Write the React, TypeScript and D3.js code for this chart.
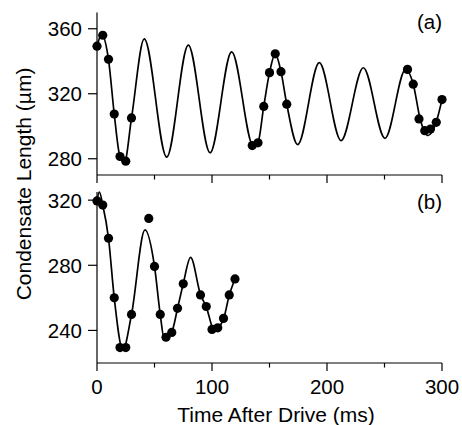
import React from 'react'
import * as d3 from 'd3'

// measured points, panel (a)
const timeA = [0, 5, 10, 15, 20, 25, 30, 135, 140, 145, 150, 155, 160, 165, 270, 275, 280, 285, 290, 295, 300]
const lengthA = [349.3, 356, 341.2, 307.5, 281.4, 278.5, 305.1, 288.1, 289.8, 312.2, 333, 344.6, 333.6, 313.6, 335, 325.9, 304.5, 297.3, 298.3, 302.4, 316.4]

// fit curve (a) at its turning points
const fitTimeA = [0, 4, 10, 15, 20, 24, 30, 41.1, 60.6, 79.4, 98.3, 117.1, 136, 140, 145, 150, 155, 160, 165, 174.5, 193.3, 212.2, 231.6, 250.4, 268.4, 275, 281, 287.8, 295, 300]
const fitLengthA = [349, 356.5, 341, 307.5, 281.4, 278.3, 305, 353.8, 281, 349.9, 283.7, 345.8, 287.8, 290, 312.2, 333, 344.6, 333.6, 313.6, 288.7, 339.1, 291.2, 336, 292.6, 335, 325.9, 304.5, 294.3, 302.6, 316.4]

// measured points, panel (b)
const timeB = [0, 5, 10, 15, 20, 25, 30, 45, 50, 55, 60, 65, 70, 75, 90, 95, 100, 105, 110, 115, 120]
const lengthB = [319.5, 317, 296.6, 260, 229.5, 229.5, 249.8, 308.8, 279.3, 249.8, 235.8, 238.8, 253.6, 268.6, 261.8, 254.7, 240.6, 241.6, 247.4, 261.8, 271.6]

// fit curve (b)
const fitTimeB = [0, 2, 5, 10, 15, 22.5, 30, 41.7, 50, 55, 58.5, 65, 70, 75, 81.4, 90, 95, 102, 110, 115, 120]
const fitLengthB = [319.5, 325, 317, 296.6, 260, 228, 249.8, 301.7, 279.3, 249.8, 235, 239, 253.4, 268.7, 284.8, 262, 254.5, 240, 247.1, 261.6, 271.6]

const xMajor = [0, 100, 200, 300]
const xMinor = [50, 150, 250]
const yTicksA = [280, 320, 360]
const yTicksB = [240, 280, 320]

const FONT = "'Liberation Sans', Arial, Helvetica, sans-serif"

const x = d3.scaleLinear().domain([0, 300]).range([97, 442])
const yA = d3.scaleLinear().domain([270, 370]).range([175, 12.5])
const yB = d3.scaleLinear().domain([220, 325]).range([363, 192])

function Panel({ y, yTicks, times, values, fitT, fitV, tag, showLabels }) {
  const [y0, y1] = y.range()
  const line = d3.line().x(d => x(d[0])).y(d => y(d[1])).curve(d3.curveMonotoneX)
  const fit = fitT.map((t, i) => [t, fitV[i]])
  return (
    <g>
      {/* y axis */}
      <line x1={97} x2={97} y1={y1} y2={y0} stroke="#000" strokeWidth={1.2} />
      {yTicks.map(v => (
        <g key={v}>
          <line x1={88} x2={97} y1={y(v)} y2={y(v)} stroke="#000" strokeWidth={1.2} />
          <text x={82} y={y(v)} dy="0.36em" textAnchor="end" fontSize={20.5} fontFamily={FONT}>{v}</text>
        </g>
      ))}
      {/* x axis */}
      <line x1={97} x2={442} y1={y0} y2={y0} stroke="#000" strokeWidth={1.2} />
      {xMajor.map(t => (
        <g key={t}>
          <line x1={x(t)} x2={x(t)} y1={y0} y2={y0 + 8} stroke="#000" strokeWidth={1.2} />
          {showLabels && (
            <text x={x(t)} y={y0 + 31} textAnchor="middle" fontSize={20.5} fontFamily={FONT}>{t}</text>
          )}
        </g>
      ))}
      {xMinor.map(t => (
        <line key={t} x1={x(t)} x2={x(t)} y1={y0} y2={y0 + 4.5} stroke="#000" strokeWidth={1.2} />
      ))}
      <path d={line(fit)} fill="none" stroke="#000" strokeWidth={1.7} />
      {times.map((t, i) => (
        <circle key={i} cx={x(t)} cy={y(values[i])} r={4.6} fill="#000" />
      ))}
      <text x={442} y={y1 + 16.5} textAnchor="end" fontSize={20.5} fontFamily={FONT}>{tag}</text>
    </g>
  )
}

export default function App() {
  return (
    <svg width={462} height={425} style={{ position: 'absolute', left: 0, top: 0, background: '#fff' }}>
      <Panel y={yA} yTicks={yTicksA} times={timeA} values={lengthA} fitT={fitTimeA} fitV={fitLengthA} tag="(a)" showLabels={false} />
      <Panel y={yB} yTicks={yTicksB} times={timeB} values={lengthB} fitT={fitTimeB} fitV={fitLengthB} tag="(b)" showLabels={true} />
      <text x={276} y={421.5} textAnchor="middle" fontSize={21} fontFamily={FONT}>Time After Drive (ms)</text>
      <text transform="translate(31,184) rotate(-90)" textAnchor="middle" fontSize={21} fontFamily={FONT}>Condensate Length (µm)</text>
    </svg>
  )
}
